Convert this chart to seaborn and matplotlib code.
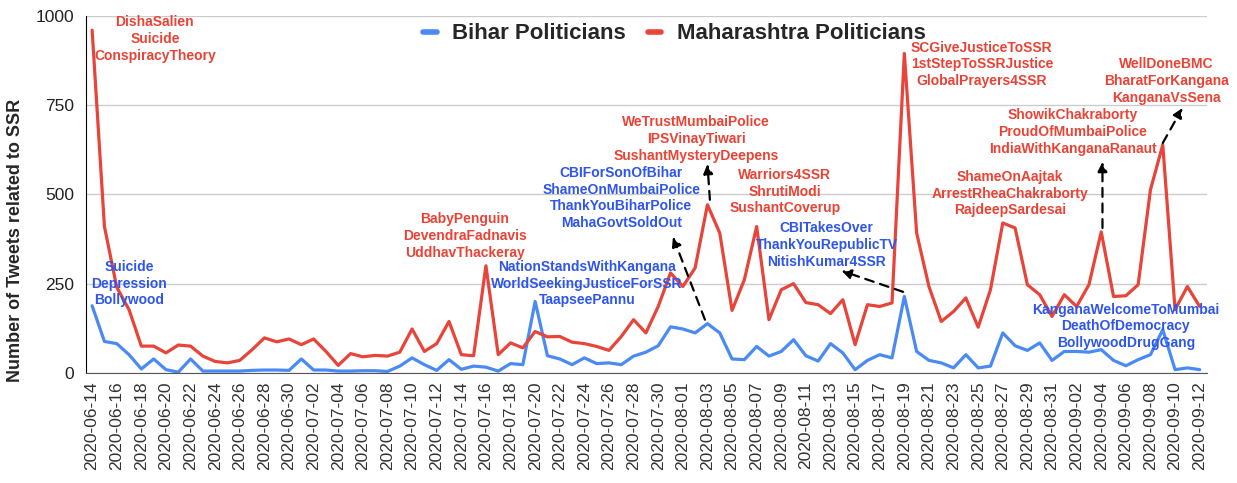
import pandas as pd
import seaborn as sns
import matplotlib.pyplot as plt

# daily tweet counts, 2020-06-14 .. 2020-09-12
dates = pd.date_range("2020-06-14", "2020-09-12", freq="D").strftime("%Y-%m-%d").tolist()

bihar = [188, 88, 82, 51, 11, 39, 9, 2, 39, 5, 5, 5, 5, 7, 8, 8,
         7, 39, 8, 8, 5, 5, 6, 6, 4, 19, 42, 23, 7, 37, 10,
         19, 16, 5, 26, 23, 200, 48, 39, 23, 42, 26, 28, 23, 47, 58,
         76, 129, 123, 112, 138, 112, 39, 37, 74, 47, 60, 93, 48, 33, 82,
         56, 9, 35, 51, 42, 214, 60, 35, 28, 14, 51, 14, 19, 112, 76,
         63, 84, 35, 60, 60, 58, 65, 35, 20, 37, 51, 121, 9, 14, 9]

maharashtra = [960, 410, 240, 177, 75, 75, 56, 78, 75, 47, 32, 28, 35, 65, 98, 87,
               95, 79, 95, 60, 21, 54, 45, 49, 47, 58, 123, 60, 82, 144, 51,
               48, 300, 51, 84, 70, 116, 101, 102, 86, 82, 74, 63, 102, 149, 112,
               186, 280, 242, 294, 471, 392, 175, 261, 410, 149, 233, 250, 197, 191, 166,
               205, 79, 191, 186, 196, 895, 392, 242, 144, 172, 210, 128, 233, 420, 406,
               247, 219, 158, 219, 186, 247, 395, 214, 216, 247, 513, 639, 177, 242, 186]

# hashtag notes: (text, day index, y value, colour key)
notes = [
    ("DishaSalien\nSuicide\nConspiracyTheory", 5.1, 935, "r"),
    ("Suicide\nDepression\nBollywood", 3.0, 250, "b"),
    ("BabyPenguin\nDevendraFadnavis\nUddhavThackeray", 30.3, 384, "r"),
    ("NationStandsWithKangana\nWorldSeekingJusticeForSSR\nTaapseePannu", 40.2, 250, "b"),
    ("CBIForSonOfBihar\nShameOnMumbaiPolice\nThankYouBiharPolice\nMahaGovtSoldOut", 43.0, 490, "b"),
    ("WeTrustMumbaiPolice\nIPSVinayTiwari\nSushantMysteryDeepens", 49.1, 655, "r"),
    ("Warriors4SSR\nShrutiModi\nSushantCoverup", 56.3, 508, "r"),
    ("CBITakesOver\nThankYouRepublicTV\nNitishKumar4SSR", 59.7, 358, "b"),
    ("SCGiveJusticeToSSR\n1stStepToSSRJustice\nGlobalPrayers4SSR", 72.3, 864, "r"),
    ("ShameOnAajtak\nArrestRheaChakraborty\nRajdeepSardesai", 74.6, 502, "r"),
    ("ShowikChakraborty\nProudOfMumbaiPolice\nIndiaWithKanganaRanaut", 79.7, 675, "r"),
    ("WellDoneBMC\nBharatForKangana\nKanganaVsSena", 87.3, 818, "r"),
    ("KanganaWelcomeToMumbai\nDeathOfDemocracy\nBollywoodDrugGang", 84.0, 130, "b"),
]

# dashed arrows: (tail x, tail y, head x, head y)
arrows = [
    (50.2, 485, 50.0, 585),
    (49.8, 149, 47.2, 381),
    (65.9, 227, 60.9, 286),
    (82.1, 406, 82.1, 591),
    (87.0, 644, 88.6, 742),
]

blue_line = "#4a8af4"
red_line = "#e8443a"
text_col = {"r": "#ea4335", "b": "#2e55ec"}

sns.set_style("white")
plt.rcParams["font.family"] = ["Liberation Sans", "DejaVu Sans"]

days = list(range(len(dates)))
df = pd.DataFrame({"day": days * 2,
                   "count": bihar + maharashtra,
                   "group": ["Bihar Politicians"] * len(days) + ["Maharashtra Politicians"] * len(days)})

fig, ax = plt.subplots(figsize=(12.37, 4.83), dpi=100)
fig.subplots_adjust(left=0.0695, right=0.9758, top=0.967, bottom=0.228)

sns.lineplot(data=df, x="day", y="count", hue="group", palette=[blue_line, red_line],
             linewidth=2.3, ax=ax)

ax.set_xlim(-0.5, 90.6)
ax.set_ylim(0, 1000)
ax.set_yticks([0, 250, 500, 750, 1000])
ax.set_xticks(days[::2])
ax.set_xticklabels(dates[::2], rotation=90, fontsize=12.5, color="#333333")
ax.tick_params(axis="y", labelsize=12.5, length=5, color="black", labelcolor="#222222")
ax.tick_params(axis="x", length=0, pad=6)
ax.yaxis.grid(True, color="#cccccc", linewidth=1)
ax.set_axisbelow(True)
for s in ["top", "right"]:
    ax.spines[s].set_visible(False)
ax.spines["left"].set_color("black")
ax.spines["bottom"].set_color("#555555")
ax.set_xlabel("")
ax.set_ylabel("Number of Tweets related to SSR", fontsize=13, fontweight="bold")
ax.yaxis.set_label_coords(-0.055, 0.37)

for txt, x, y, c in notes:
    ax.text(x, y, txt, color=text_col[c], fontsize=10, fontweight="bold",
            ha="center", va="center", linespacing=1.25)

for x0, y0, x1, y1 in arrows:
    ax.annotate("", xy=(x1, y1), xytext=(x0, y0),
                arrowprops=dict(arrowstyle="-|>", linestyle=(0, (4, 3)), color="black",
                                lw=1.6, mutation_scale=14, shrinkA=0, shrinkB=0))

leg = ax.legend(loc="center", bbox_to_anchor=(0.525, 0.95), ncol=2, frameon=False,
                handlelength=0.6, columnspacing=1.0, handletextpad=0.7,
                prop={"size": 16, "weight": "bold"})
for h in leg.get_lines():
    h.set_linewidth(4)

plt.savefig("out.png", dpi=100)
